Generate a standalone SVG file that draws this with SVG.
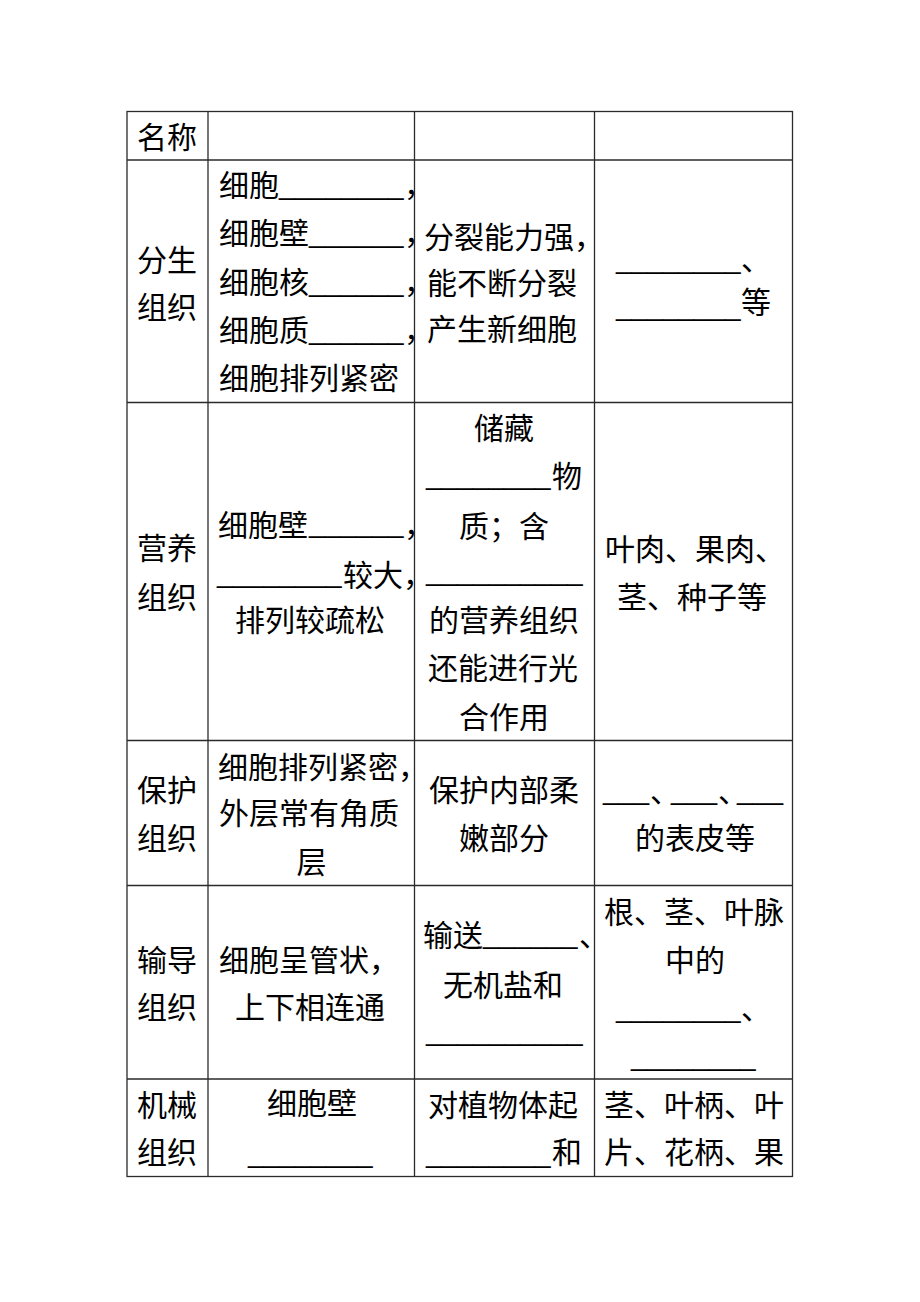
<svg xmlns="http://www.w3.org/2000/svg" width="920" height="1302" viewBox="0 0 920 1302">
<style>
.t{font-family:"Noto Sans CJK SC","Noto Sans",sans-serif;font-size:30px;fill:#000}
.c{text-anchor:middle}
.h{font-feature-settings:"halt"}
.u{font-family:"Liberation Sans",sans-serif;fill:#000}
.u8{font-size:28px}
.u6{font-size:28.3px}
.u10{font-size:28.2px}
.u3{font-size:27.6px}
.g{stroke:#2a2a2a;stroke-width:1.3;fill:none}
</style>
<rect width="920" height="1302" fill="#fff"/>
<g id="grid">
<rect class="g" x="127" y="111.5" width="665.5" height="1065"/>
<line class="g" x1="208" y1="111.5" x2="208" y2="1176.5"/>
<line class="g" x1="414.5" y1="111.5" x2="414.5" y2="1176.5"/>
<line class="g" x1="594.5" y1="111.5" x2="594.5" y2="1176.5"/>
<line class="g" x1="127" y1="160" x2="792.5" y2="160"/>
<line class="g" x1="127" y1="402.5" x2="792.5" y2="402.5"/>
<line class="g" x1="127" y1="740.5" x2="792.5" y2="740.5"/>
<line class="g" x1="127" y1="885.5" x2="792.5" y2="885.5"/>
<line class="g" x1="127" y1="1079" x2="792.5" y2="1079"/>
</g>
<g id="row-header">
<text class="t" x="137" y="148">名称</text>
</g>
<g id="row-fensheng">
<text class="t" x="137" y="271">分生</text>
<text class="t" x="137" y="318">组织</text>
<text class="t"><tspan x="219" y="196">细胞</tspan><tspan class="u u8" x="279" y="194">________</tspan><tspan class="h" x="404" y="196">，</tspan></text>
<text class="t"><tspan x="219" y="244">细胞壁</tspan><tspan class="u u6" x="309" y="242">______</tspan><tspan class="h" x="404" y="244">，</tspan></text>
<text class="t"><tspan x="219" y="293">细胞核</tspan><tspan class="u u6" x="309" y="291">______</tspan><tspan class="h" x="404" y="293">，</tspan></text>
<text class="t"><tspan x="219" y="341">细胞质</tspan><tspan class="u u6" x="309" y="339">______</tspan><tspan class="h" x="404" y="341">，</tspan></text>
<text class="t" x="219" y="389">细胞排列紧密</text>
<text class="t" x="424" y="248">分裂能力强<tspan class="h">，</tspan></text>
<text class="t" x="427" y="294">能不断分裂</text>
<text class="t" x="427" y="340">产生新细胞</text>
<text class="t"><tspan class="u u8" x="616" y="268">________</tspan><tspan class="h" x="741" y="270">、</tspan></text>
<text class="t"><tspan class="u u8" x="616" y="315">________</tspan><tspan x="741" y="313">等</tspan></text>
</g>
<g id="row-yingyang">
<text class="t" x="137" y="559">营养</text>
<text class="t" x="137" y="608">组织</text>
<text class="t"><tspan x="218" y="536">细胞壁</tspan><tspan class="u u6" x="309" y="532">______</tspan><tspan class="h" x="404" y="536">，</tspan></text>
<text class="t"><tspan class="u u8" x="217" y="582">________</tspan><tspan x="343" y="586">较大</tspan><tspan class="h">，</tspan></text>
<text class="t" x="235" y="631">排列较疏松</text>
<text class="t c" x="504" y="439">储藏</text>
<text class="t"><tspan class="u u8" x="426" y="484">________</tspan><tspan x="552" y="487">物</tspan></text>
<text class="t" x="459" y="537">质；含</text>
<text class="u u10" x="426" y="580">__________</text>
<text class="t" x="429" y="631">的营养组织</text>
<text class="t" x="428" y="679">还能进行光</text>
<text class="t c" x="504" y="728">合作用</text>
<text class="t" x="605" y="560">叶肉、果肉<tspan class="h">、</tspan></text>
<text class="t" x="617" y="608">茎、种子等</text>
</g>
<g id="row-baohu">
<text class="t" x="137" y="801">保护</text>
<text class="t" x="137" y="849">组织</text>
<text class="t" x="218" y="778">细胞排列紧密<tspan class="h">，</tspan></text>
<text class="t" x="219" y="824">外层常有角质</text>
<text class="t c" x="311.5" y="873">层</text>
<text class="t" x="429" y="801">保护内部柔</text>
<text class="t" x="459" y="849">嫩部分</text>
<text class="t"><tspan class="u u3" x="603" y="799">___</tspan><tspan class="h" x="650" y="802">、</tspan><tspan class="u u3" x="671" y="799">___</tspan><tspan class="h" x="718" y="802">、</tspan><tspan class="u u3" x="737" y="799">___</tspan></text>
<text class="t" x="635" y="849">的表皮等</text>
</g>
<g id="row-shudao">
<text class="t" x="137" y="971">输导</text>
<text class="t" x="137" y="1018">组织</text>
<text class="t" x="219" y="971">细胞呈管状<tspan class="h">，</tspan></text>
<text class="t" x="235" y="1018">上下相连通</text>
<text class="t"><tspan x="423" y="946">输送</tspan><tspan class="u u6" x="483" y="943">______</tspan><tspan class="h" x="579" y="946">、</tspan></text>
<text class="t" x="443" y="996">无机盐和</text>
<text class="u u10" x="426" y="1040">__________</text>
<text class="t" x="604" y="923">根、茎、叶脉</text>
<text class="t" x="665" y="971">中的</text>
<text class="t"><tspan class="u u8" x="616" y="1017">________</tspan><tspan class="h" x="741" y="1019">、</tspan></text>
<text class="u u8" x="631" y="1065">________</text>
</g>
<g id="row-jixie">
<text class="t" x="137" y="1116">机械</text>
<text class="t" x="137" y="1163">组织</text>
<text class="t" x="267" y="1114">细胞壁</text>
<text class="u u8" x="248" y="1162">________</text>
<text class="t" x="428" y="1116">对植物体起</text>
<text class="t"><tspan class="u u8" x="426" y="1162">________</tspan><tspan x="552" y="1163">和</tspan></text>
<text class="t" x="604" y="1116">茎、叶柄、叶</text>
<text class="t" x="604" y="1163">片、花柄、果</text>
</g>
</svg>
